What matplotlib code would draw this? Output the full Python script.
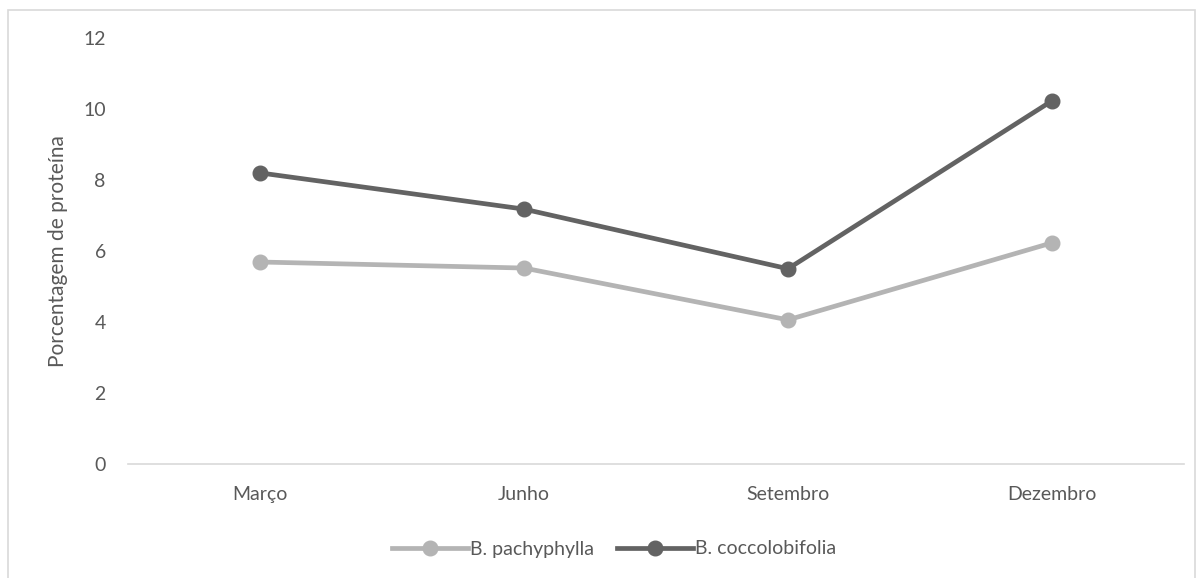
import matplotlib.pyplot as plt
from matplotlib.patches import Rectangle

meses = ["Março", "Junho", "Setembro", "Dezembro"]
pachyphylla = [5.69, 5.52, 4.06, 6.23]
coccolobifolia = [8.2, 7.18, 5.5, 10.23]

plt.rcParams['font.family'] = ['Lato', 'DejaVu Sans']
txt = '#595959'

fig = plt.figure(figsize=(12.02, 5.78), dpi=100)
ax = fig.add_axes([128 / 1202, 1 - 464 / 578, 1056 / 1202, 426 / 578])

x = range(len(meses))
ax.plot(x, pachyphylla, color='#b4b4b4', lw=3.4, marker='o', ms=10.5, label='B. pachyphylla')
ax.plot(x, coccolobifolia, color='#636363', lw=3.4, marker='o', ms=10.5, label='B. coccolobifolia')

ax.set_xlim(-0.5, 3.5)
ax.set_ylim(0, 12)
ax.set_yticks(range(0, 13, 2))
ax.set_xticks(list(x))
ax.set_xticklabels(meses)
ax.tick_params(length=0, labelsize=14, colors=txt)
ax.tick_params(axis='y', pad=16)
ax.tick_params(axis='x', pad=16)
for s in ['top', 'right', 'left']:
    ax.spines[s].set_visible(False)
ax.spines['bottom'].set_color('#d9d9d9')
ax.spines['bottom'].set_linewidth(1.2)
ax.set_ylabel('Porcentagem de proteína', fontsize=15, color=txt, labelpad=11)

fig.legend(loc='center', bbox_to_anchor=(614 / 1202, 1 - 549 / 578), ncol=2, frameon=False,
           fontsize=14, labelcolor=txt, handlelength=3.9, handletextpad=0.1, columnspacing=1.2)

fig.patches.append(Rectangle((8 / 1202, -0.1), 1187 / 1202, 1.1 - 10 / 578, transform=fig.transFigure,
                             fill=False, edgecolor='#d9d9d9', lw=1.2))

fig.savefig('out.png', dpi=100)
